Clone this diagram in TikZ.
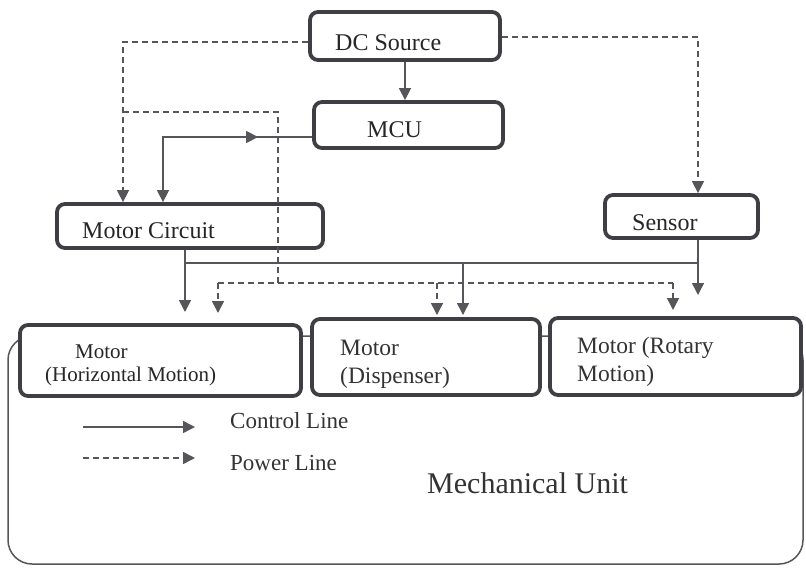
\documentclass[tikz,border=0pt]{standalone}
\usepackage{fontspec}
\setmainfont{Liberation Serif}
\usetikzlibrary{arrows.meta,decorations.markings}
\definecolor{boxgray}{HTML}{3E3E44}
\definecolor{linegray}{HTML}{55555A}
\begin{document}
\begin{tikzpicture}[x=1pt,y=-1pt,
  box/.style={draw=boxgray, line width=3.8pt, rounded corners=8pt, fill=white, inner sep=0pt},
  ctrl/.style={draw=linegray, line width=1.5pt, -{Triangle[length=12pt,width=12pt]}, color=linegray},
  ctrlline/.style={draw=linegray, line width=1.5pt},
  pwr/.style={draw=linegray, line width=1.5pt, dash pattern=on 6pt off 4pt, -{Triangle[length=12pt,width=12pt]}, color=linegray},
  pwrline/.style={draw=linegray, line width=1.5pt, dash pattern=on 6pt off 4pt},
  uptext/.style={anchor=base west, inner sep=0pt, text=black!85, font=\fontsize{24}{26}\selectfont},
  lowtext/.style={anchor=base west, inner sep=0pt, text=black!80, font=\fontsize{23.5}{26}\selectfont},
  midmark/.style={postaction={decorate}, decoration={markings, mark=at position 54pt with {\arrowreversed[line width=1.5pt]{Triangle[length=12pt,width=12pt]}}}}
]
\useasboundingbox (0,0) rectangle (806,568);
\fill[white] (0,0) rectangle (806,568);

% mechanical unit outline
\draw[draw=linegray, line width=1.5pt, rounded corners=24pt] (8,336) rectangle (803,564);

% boxes
\node[box, minimum width=190pt, minimum height=48pt] (dc) at (405,36) {};
\node[box, minimum width=189pt, minimum height=46pt] (mcu) at (408.5,125) {};
\node[box, minimum width=266pt, minimum height=44pt] (mc) at (190,226) {};
\node[box, minimum width=153pt, minimum height=43pt] (sensor) at (681.5,216.5) {};
\node[box, minimum width=281pt, minimum height=71pt] (mh) at (160.5,360.5) {};
\node[box, minimum width=228pt, minimum height=76pt] (md) at (426,357) {};
\node[box, minimum width=251pt, minimum height=77pt] (mr) at (675.5,356.5) {};

% labels
\node[uptext] (tdc) at (335,50) {DC Source};
\node[uptext] (tmcu) at (367,137) {MCU};
\node[uptext] (tmc) at (82,238) {Motor Circuit};
\node[uptext] (tsen) at (632,230) {Sensor};
\node[uptext, font=\fontsize{21}{23}\selectfont] (tmh1) at (75,358) {Motor};
\node[uptext, font=\fontsize{21}{23}\selectfont] (tmh2) at (45,381) {(Horizontal Motion)};
\node[lowtext] (tmd1) at (340,355) {Motor};
\node[lowtext] (tmd2) at (340,383) {(Dispenser)};
\node[lowtext] (tmr1) at (577,353) {Motor (Rotary};
\node[lowtext] (tmr2) at (577,381) {Motion)};
\node[lowtext, font=\fontsize{23}{25}\selectfont] (tcl) at (230,428) {Control Line};
\node[lowtext, font=\fontsize{23}{25}\selectfont] (tpl) at (230,470) {Power Line};
\node[lowtext, font=\fontsize{30}{32}\selectfont] (tmu) at (427,493) {Mechanical Unit};

% coordinates for branches
\coordinate (pa) at (123,112);
\coordinate (pb) at (278,112);
\coordinate (pc) at (278,283);
\coordinate (pl) at (218,283);
\coordinate (pr) at (673,283);
\coordinate (pd) at (437,283);
\coordinate (ca) at (185,263);
\coordinate (cb) at (698,263);
\coordinate (cd) at (463,263);

% DC -> MCU
\draw[ctrl] (dc.south -| 405,0) -- (mcu.north -| 405,0);
% DC -> Motor Circuit (power)
\draw[pwr] (dc.west |- 0,42) -| (mc.north -| 123,0);
% DC -> Sensor (power)
\draw[pwr] (dc.east |- 0,37) -| (sensor.north -| 698,0);
% MCU -> Motor Circuit (control)
\draw[ctrl, midmark] (mcu.west |- 0,137) -| (mc.north -| 163,0);
% power branch to motors
\draw[pwrline] (pa) -- (pb) -- (pc);
\draw[pwrline] (pl) -- (pr);
\draw[pwr] (pl) -- (pl |- 0,313);
\draw[pwr] (pd) -- (pd |- 0,315);
\draw[pwr] (pr) -- (pr |- 0,310);
% control branch to motors
\draw[ctrl] (mc.south -| ca) -- (ca |- 0,312);
\draw[ctrlline] (ca) -- (cb);
\draw[ctrl] (sensor.south -| cb) -- (cb |- 0,295);
\draw[ctrl] (cd) -- (cd |- 0,315);

% legend
\coordinate (l1a) at (83,427);
\coordinate (l1b) at (195,427);
\coordinate (l2a) at (83,458);
\coordinate (l2b) at (195,458);
\draw[ctrl] (l1a) -- (l1b);
\draw[pwr] (l2a) -- (l2b);
\end{tikzpicture}
\end{document}
